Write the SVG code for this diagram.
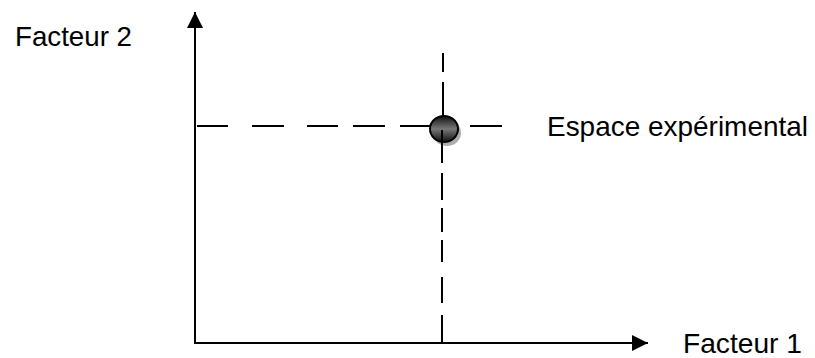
<svg xmlns="http://www.w3.org/2000/svg" width="815" height="358" viewBox="0 0 815 358">
<style>
.axis{stroke:#000;stroke-width:2;fill:none}
.dash{stroke:#000;stroke-width:2;fill:none}
.lbl{font-family:"Liberation Sans",Arial,sans-serif;font-size:28px;fill:#000}
</style>
<defs>
<marker id="ah" viewBox="0 0 16 16" refX="16" refY="8" markerWidth="16" markerHeight="16" markerUnits="userSpaceOnUse" orient="auto">
<path d="M0,0 L16,8 L0,16 Z" fill="#000"/>
</marker>
<linearGradient id="g" x1="0" y1="0" x2="0" y2="1">
<stop offset="0" stop-color="#111"/>
<stop offset="0.5" stop-color="#777"/>
<stop offset="1" stop-color="#111"/>
</linearGradient>
</defs>
<g id="connectors">
<line class="axis" x1="195" y1="344" x2="195" y2="12" marker-end="url(#ah)"/>
<line class="axis" x1="194" y1="343" x2="648" y2="343" marker-end="url(#ah)"/>
<g id="dash-h">
<line class="dash" x1="197" y1="126" x2="228" y2="126"/>
<line class="dash" x1="252" y1="126" x2="284" y2="126"/>
<line class="dash" x1="307" y1="126" x2="338" y2="126"/>
<line class="dash" x1="353" y1="126" x2="385" y2="126"/>
<line class="dash" x1="400" y1="126" x2="432" y2="126"/>
<line class="dash" x1="470" y1="126" x2="502" y2="126"/>
</g>
<g id="dash-v">
<line class="dash" x1="443" y1="53" x2="443" y2="72"/>
<line class="dash" x1="443" y1="82" x2="443" y2="116"/>
<line class="dash" x1="442" y1="140" x2="442" y2="163"/>
<line class="dash" x1="442" y1="173" x2="442" y2="200"/>
<line class="dash" x1="442" y1="208" x2="442" y2="232"/>
<line class="dash" x1="442" y1="240" x2="442" y2="262"/>
<line class="dash" x1="442" y1="277" x2="442" y2="303"/>
<line class="dash" x1="442" y1="315" x2="442" y2="343"/>
</g>
</g>
<g id="point">
<ellipse cx="447" cy="133" rx="14" ry="13" fill="#999" opacity="0.8"/>
<ellipse cx="444" cy="129" rx="14" ry="13" fill="url(#g)" stroke="#000" stroke-width="2"/>
<line x1="442" y1="130" x2="442" y2="145" stroke="#000" stroke-width="2"/>
</g>
<g id="label-f2"><text class="lbl" x="15" y="46" textLength="117" lengthAdjust="spacingAndGlyphs">Facteur 2</text></g>
<g id="label-espace"><text class="lbl" x="547" y="136" textLength="261" lengthAdjust="spacingAndGlyphs">Espace expérimental</text></g>
<g id="label-f1"><text class="lbl" x="683" y="353" textLength="119" lengthAdjust="spacingAndGlyphs">Facteur 1</text></g>
</svg>
